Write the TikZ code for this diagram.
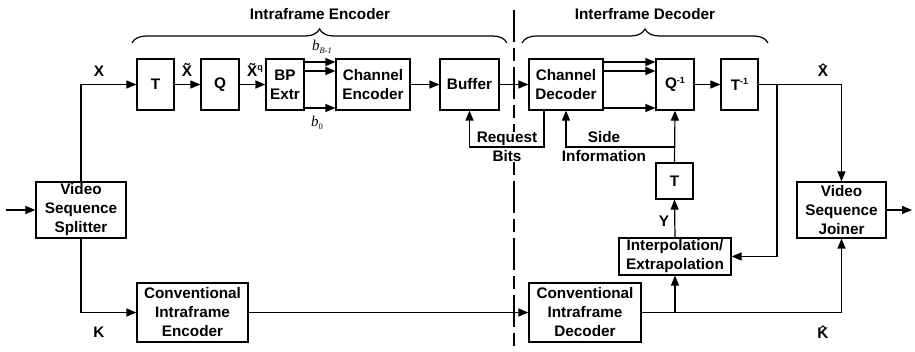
\documentclass[tikz,border=0pt]{standalone}
\usepackage{fontspec}
\setmainfont{Liberation Sans}[BoldFont={Liberation Sans Bold}]
\newfontfamily\bserif{Liberation Serif}
\usetikzlibrary{arrows.meta,decorations.pathreplacing}

% accent glyph stacked over a letter
\newcommand\withacc[3]{\leavevmode\vbox{\offinterlineskip\halign{\hfil##\hfil\cr\char"#1\relax\cr\noalign{\kern#2}#3\cr}}}
\newcommand\supsm[1]{\raisebox{5.5pt}{\fontsize{9}{9}\selectfont #1}}

\begin{document}
\begin{tikzpicture}[x=1pt,y=-1pt,
  font=\fontsize{15.3}{19}\selectfont\bfseries,
  every node/.style={align=center},
  blk/.style={draw,line width=1.2pt,fill=white,inner sep=0pt},
  lbl/.style={inner sep=1pt},
  conn/.style={line width=1.2pt},
  arr/.style={conn,-{Triangle[length=10pt,width=8pt]}},
  brc/.style={line width=1.2pt,decorate,decoration={brace,amplitude=14pt}}]
\useasboundingbox (0,0) rectangle (915,352);

% divider between encoder and decoder
\draw[line width=1.2pt,dash pattern=on 32pt off 6pt on 13pt off 6pt] (514,10) -- (514,352);

% braces and headings
\draw[brc] (132,43) -- (507,43);
\draw[brc] (522,43) -- (768,43);
\node (henc) at (320,14) {Intraframe Encoder};
\node (hdec) at (645,14) {Interframe Decoder};

% blocks
\node[blk,minimum width=37pt,minimum height=51pt] (T)   at (155.5,84.5) {T};
\node[blk,minimum width=38pt,minimum height=51pt] (Q)   at (220,84.5) {Q};
\node[blk,minimum width=38pt,minimum height=51pt] (BP)  at (285,84.5) {BP\\Extr};
\node[blk,minimum width=74pt,minimum height=51pt] (CE)  at (373,84.5) {Channel\\Encoder};
\node[blk,minimum width=59pt,minimum height=51pt] (Buf) at (469.5,84.5) {Buffer};
\node[blk,minimum width=74pt,minimum height=51pt] (CD)  at (566,84.5) {Channel\\Decoder};
\node[blk,minimum width=38pt,minimum height=51pt] (Qi)  at (675,84.5) {Q\supsm{-1}};
\node[blk,minimum width=37pt,minimum height=51pt] (Ti)  at (739.5,84.5) {T\supsm{-1}};
\node[blk,minimum width=37pt,minimum height=36pt] (Ts)  at (674.5,181) {T};
\node[blk,minimum width=112pt,minimum height=37pt] (IE) at (675,256.5) {Interpolation/\\Extrapolation};
\node[blk,minimum width=90pt,minimum height=56pt] (Spl) at (81,210) {Video\\Sequence\\Splitter};
\node[blk,minimum width=89pt,minimum height=56pt] (Joi) at (841.5,210) {Video\\Sequence\\Joiner};
\node[blk,minimum width=111pt,minimum height=59pt] (CIE) at (192.5,312.5) {Conventional\\Intraframe\\Encoder};
\node[blk,minimum width=112pt,minimum height=59pt] (CID) at (585,312.5) {Conventional\\Intraframe\\Decoder};

% signal labels
\node[lbl] (lX)  at (99,71) {X};
\node[lbl] (lXt) at (187,70) {\withacc{02DC}{-9.5pt}{X}};
\node[lbl] (lXq) at (255,70) {\withacc{02DC}{-9.5pt}{X}\supsm{q}};
\node[lbl,font=\fontsize{15}{15}\selectfont\bserif\itshape] (lbB) at (322,47) {b\raisebox{-3pt}{\fontsize{8.5}{9}\selectfont B-1}};
\node[lbl,font=\fontsize{15}{15}\selectfont\bserif\itshape] (lb0) at (317,123) {b\raisebox{-3pt}{\fontsize{8.5}{9}\selectfont\upshape 0}};
\node[lbl] (lXh) at (823,70) {\withacc{02C6}{-9.5pt}{X}};
\node[lbl] (lK)  at (99,332) {K};
\node[lbl] (lKh) at (823,332) {\withacc{02C6}{-9.5pt}{K}};
\node[lbl] (lY)  at (664,221) {Y};
\node[lbl,fill=white,inner sep=0pt] (lReq) at (507,147) {Request\\Bits};
\node[lbl] (lSide) at (604,147) {Side\\Information};

% junction points
\coordinate (in)   at (6,210);
\coordinate (out)  at (912,210);
\coordinate (xb)   at (777,84.5);
\coordinate (kb)   at (675,312.5);
\coordinate (sb)   at (674.5,147);

% encoder path
\draw[arr] (Spl.north) |- (T.west);
\draw[arr] (in) -- (Spl.west);
\draw[arr] (T) -- (Q);
\draw[arr] (Q) -- (BP);
\draw[arr] (BP.east |- 0,62)  -- (CE.west |- 0,62);
\draw[arr] (BP.east |- 0,71)  -- (CE.west |- 0,71);
\draw[arr] (BP.east |- 0,108) -- (CE.west |- 0,108);
\draw[arr] (CE) -- (Buf);
\draw[arr] (Buf) -- (CD);
\draw[arr] (CD.south -| 544,0) |- (469.5,147) -- (Buf.south);

% decoder path
\draw[arr] (CD.east |- 0,62)  -- (Qi.west |- 0,62);
\draw[arr] (CD.east |- 0,71)  -- (Qi.west |- 0,71);
\draw[arr] (CD.east |- 0,108) -- (Qi.west |- 0,108);
\draw[arr] (Qi) -- (Ti);
\draw[arr] (Ti.east) -| (Joi.north);
\draw[arr] (xb) |- (IE.east);
\draw[arr] (Ts.north) -- (Qi.south);
\draw[arr] (sb) -| (CD.south);
\draw[arr] (IE.north) -- (Ts.south);

% key frame path
\draw[arr] (Spl.south) |- (CIE.west);
\draw[arr] (CIE) -- (CID);
\draw[arr] (CID.east) -| (Joi.south);
\draw[arr] (kb) -- (IE.south);
\draw[arr] (Joi) -- (out);
\end{tikzpicture}
\end{document}
